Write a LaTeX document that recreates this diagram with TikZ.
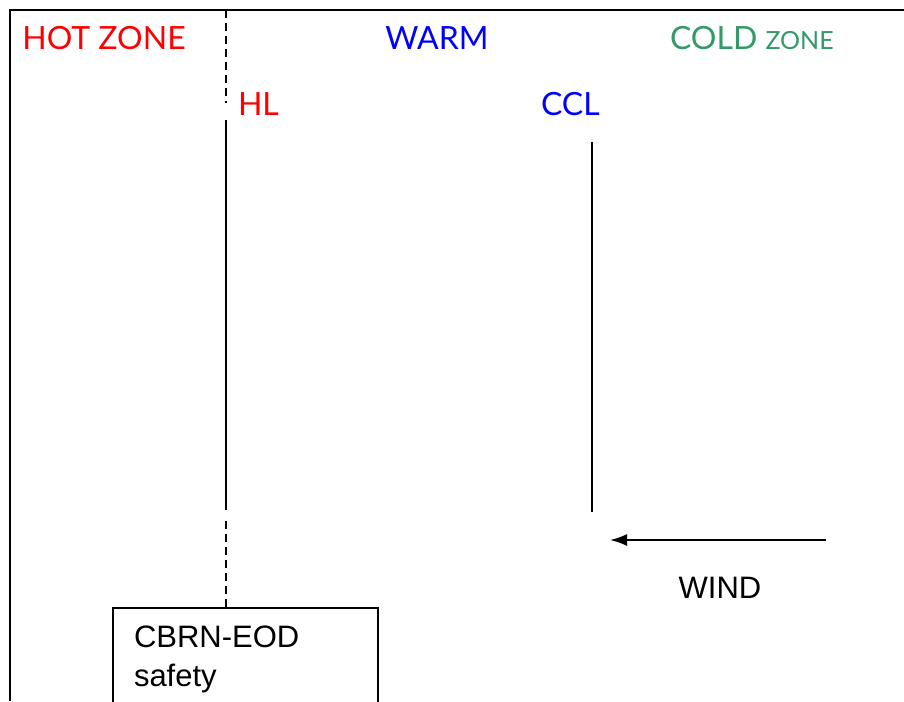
\documentclass[tikz,border=0pt]{standalone}
\usepackage{fontspec}
\setmainfont{Liberation Sans}
\newfontfamily\zonefont{Lato}
\usetikzlibrary{positioning, arrows.meta}
\definecolor{zonegreen}{RGB}{51,153,102}

\begin{document}
\begin{tikzpicture}[x=1pt, y=-1pt, line width=2pt,
  zone/.style={font=\zonefont\fontsize{32}{38}\selectfont, inner sep=0pt},
  label/.style={font=\fontsize{31}{39}\selectfont, inner sep=0pt},
  hldash/.style={dash pattern=on 8pt off 5pt}]
\useasboundingbox (0,0) rectangle (904,701);
\clip (0,0) rectangle (904,701);

\draw (10,701) -- (10,10) -- (904,10); %边框

% 区域名称
\node[zone, text=red, anchor=base] (hot) at (104,50) {HOT ZONE};
\node[zone, text=blue, anchor=base] (warm) at (437,50) {WARM};
\node[zone, text=zonegreen, anchor=base west] (cold) at (669,50)
  {COLD {\fontsize{25}{30}\selectfont ZONE}};
\node[zone, text=red, anchor=base west] (hl) at (237,115) {HL};
\node[zone, text=blue, anchor=base west] (ccl) at (540,115) {CCL};

% 安全区
\node[draw, anchor=north west, minimum width=265pt, minimum height=130pt] (box) at (112,607) {};
\node[label, anchor=base west, align=left] (boxtxt) at (133,686) {CBRN-EOD\\safety};

% HL 线
\coordinate (hltop) at (226,10);
\coordinate (hla) at (226,103);
\coordinate (hlb) at (226,120);
\coordinate (hlc) at (226,510);
\coordinate (hld) at (226,521);
\draw[hldash] (hltop) -- (hla);
\draw (hlb) -- (hlc);
\draw[hldash] (hld) -- (hld |- box.north);

% CCL 线
\coordinate (ccltop) at (592,142);
\coordinate (cclbot) at (592,512);
\draw (ccltop) -- (cclbot);

% 风向
\coordinate (windtail) at (826,540);
\coordinate (windhead) at (610,540);
\draw[-{Latex[length=17pt,width=12pt]}] (windtail) -- (windhead);
\node[label, anchor=base] (wind) at (720,598) {WIND};

\end{tikzpicture}
\end{document}
